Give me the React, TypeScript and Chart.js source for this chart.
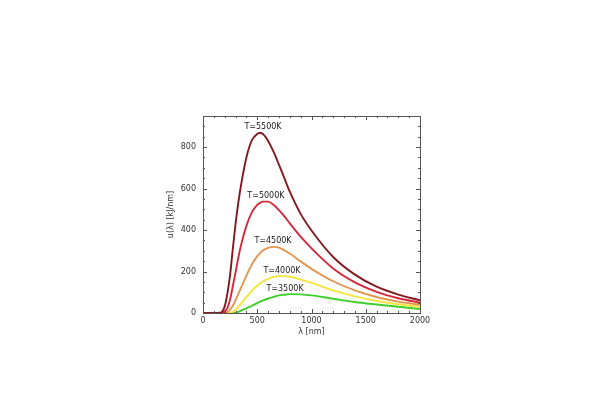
import React, { useEffect, useRef } from "react";
import { Chart, registerables } from "chart.js";

Chart.register(...registerables);

// wavelength samples (nm)
const wavelengths = [0, 100, 150, 175, 200, 225, 250, 275, 300, 325, 350, 400, 450, 500, 525, 550, 600, 650, 700, 750, 800, 900, 1000, 1200, 1400, 1600, 1800, 2000];

// spectral energy density (kJ/nm)
const u5500 = [0, 0, 1, 6, 32, 95, 185, 310, 430, 530, 615, 750, 832, 864, 868, 864, 830, 778, 715, 650, 585, 478, 398, 270, 185, 127, 89, 61];
const u5000 = [0, 0, 0, 1, 7, 25, 66, 130, 196, 265, 326, 420, 485, 521, 531, 537, 537, 522, 496, 466, 432, 368, 312, 215, 148, 102, 71, 50];
const u4500 = [0, 0, 0, 0, 1, 4, 17, 35, 62, 91, 121, 180, 234, 274, 289, 301, 314, 319, 315, 302, 287, 249, 213, 153, 109, 77, 55, 40];
const u4000 = [0, 0, 0, 0, 0, 0, 2, 6, 17, 30, 45, 77, 107, 133, 143, 152, 165, 174, 178, 178, 175, 161, 145, 109, 80, 58, 42, 30];
const u3500 = [0, 0, 0, 0, 0, 0, 0, 0, 2, 5, 11, 22, 35, 48, 54, 60, 70, 78, 85, 88, 91, 90, 85, 69, 53, 41, 30, 19];

const seriesLabels = ["T=5500K", "T=5000K", "T=4500K", "T=4000K", "T=3500K"];
const seriesValues = [u5500, u5000, u4500, u4000, u3500];
const seriesColors = ["#84191f", "#d22a3a", "#e29650", "#f3e53c", "#3fcf2c"];

// label anchor positions (data coords)
const labelX = [553, 580, 645, 728, 756];
const labelY = [896, 564, 347, 202, 116];

const xTicks = [0, 500, 1000, 1500, 2000];
const yTicks = [0, 200, 400, 600, 800];
const xMinorStep = 100;
const yMinorStep = 50;

const FONT = "'DejaVu Sans', sans-serif";

const framePlugin = {
  id: "frame",
  afterDatasetsDraw(chart: any) {
    const { ctx, chartArea: a, scales } = chart;
    const x = scales.x;
    const y = scales.y;
    ctx.save();
    ctx.strokeStyle = "#555";
    ctx.lineWidth = 1;
    ctx.strokeRect(Math.round(a.left) + 0.5, Math.round(a.top) + 0.5, Math.round(a.right - a.left), Math.round(a.bottom - a.top));
    const line = (x1: number, y1: number, x2: number, y2: number) => {
      ctx.beginPath();
      ctx.moveTo(x1, y1);
      ctx.lineTo(x2, y2);
      ctx.stroke();
    };
    for (let v = x.min; v <= x.max; v += xMinorStep) {
      const px = Math.round(x.getPixelForValue(v)) + 0.5;
      const len = xTicks.includes(v) ? 4 : 2;
      line(px, a.bottom, px, a.bottom - len);
      line(px, a.top, px, a.top + len);
    }
    for (let v = y.min; v <= y.max; v += yMinorStep) {
      const py = Math.round(y.getPixelForValue(v)) + 0.5;
      const len = yTicks.includes(v) ? 4 : 2;
      line(a.left, py, a.left + len, py);
      line(a.right, py, a.right - len, py);
    }
    ctx.fillStyle = "#222";
    ctx.font = `8px ${FONT}`;
    ctx.textAlign = "center";
    ctx.textBaseline = "middle";
    seriesLabels.forEach((t, i) => {
      ctx.fillText(t, x.getPixelForValue(labelX[i]), y.getPixelForValue(labelY[i]));
    });
    ctx.restore();
  },
};

export default function App() {
  const ref = useRef<HTMLCanvasElement | null>(null);
  useEffect(() => {
    if (!ref.current) return;
    const chart = new Chart(ref.current, {
      type: "line",
      data: {
        datasets: seriesLabels.map((label, i) => ({
          label,
          data: wavelengths.map((w, j) => ({ x: w, y: seriesValues[i][j] })),
          borderColor: seriesColors[i],
          backgroundColor: seriesColors[i],
          borderWidth: 1.9,
          pointRadius: 0,
          fill: false,
          cubicInterpolationMode: "monotone" as const,
        })),
      },
      options: {
        animation: false,
        responsive: true,
        maintainAspectRatio: false,
        layout: { padding: { left: 158, right: 180, top: 116, bottom: 59 } },
        plugins: { legend: { display: false }, tooltip: { enabled: false } },
        scales: {
          x: {
            type: "linear",
            min: 0,
            max: 2000,
            afterBuildTicks: (s: any) => {
              s.ticks = xTicks.map((v) => ({ value: v }));
            },
            afterFit: (s: any) => {
              s.height = 28;
            },
            grid: { display: false, drawTicks: false },
            border: { display: false },
            ticks: { color: "#333", padding: 3, maxRotation: 0, font: { size: 8, family: FONT }, callback: (v: any) => String(v) },
            title: { display: true, text: "λ [nm]", color: "#333", padding: { top: 0, bottom: 4 }, font: { size: 8, family: FONT } },
          },
          y: {
            type: "linear",
            min: 0,
            max: 950,
            afterBuildTicks: (s: any) => {
              s.ticks = yTicks.map((v) => ({ value: v }));
            },
            afterFit: (s: any) => {
              s.width = 45;
            },
            grid: { display: false, drawTicks: false },
            border: { display: false },
            ticks: { color: "#333", padding: 7, font: { size: 8, family: FONT }, callback: (v: any) => String(v) },
            title: { display: true, text: "u(λ) [kJ/nm]", color: "#333", padding: { top: 8, bottom: 0 }, font: { size: 8, family: FONT } },
          },
        },
      },
      plugins: [framePlugin],
    });
    return () => chart.destroy();
  }, []);
  return (
    <div style={{ position: "fixed", left: 0, top: 0, width: 600, height: 400, background: "#fff" }}>
      <canvas ref={ref} />
    </div>
  );
}
